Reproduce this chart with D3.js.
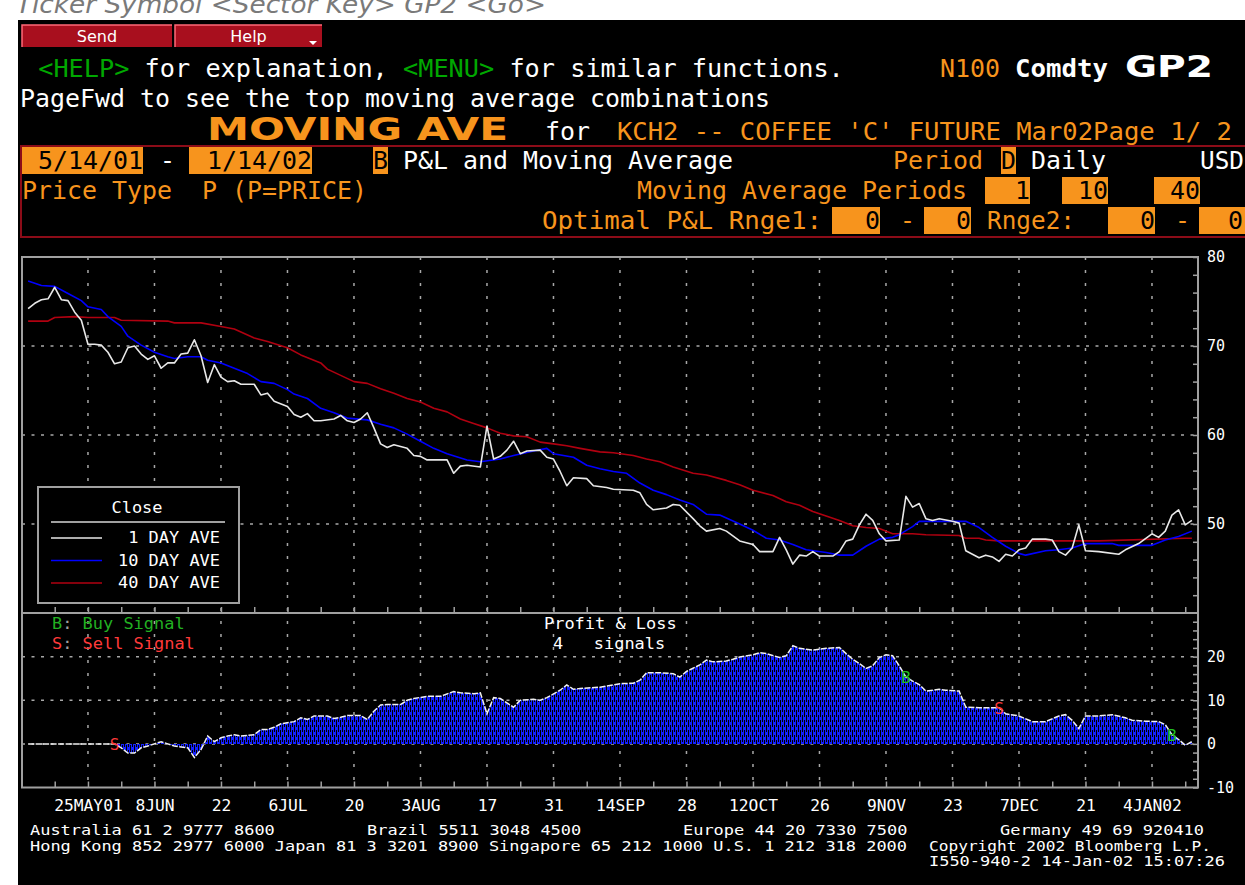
<!DOCTYPE html>
<html lang="en">
<head>
<meta charset="UTF-8">
<title>MOVING AVE - KCH2 Coffee 'C' Future</title>
<script src="https://cdn.jsdelivr.net/npm/d3@7"></script>
<style>
  body { margin: 0; background: #fff; }
  svg { display: block; }
  text { white-space: pre; }
</style>
</head>
<body>
<div id="chart"></div>
<script>
// trading-day number counted from 5/14/01 (day 0) to 1/14/02 (day 175)
const tickDays = [9, 19, 29, 39, 49, 59, 69, 79, 89, 99, 109, 119, 129, 139, 149, 159, 169];
const tickLabels = ["25MAY01", "8JUN", "22", "6JUL", "20", "3AUG", "17", "31", "14SEP",
  "28", "12OCT", "26", "9NOV", "23", "7DEC", "21", "4JAN02"];
const priceTicks = [50, 60, 70, 80];
const pnlTicks = [-10, 0, 10, 20];

// 1 day ave (close)
const close1 = [[0,74.2],[1,74.8],[2,75.2],[3,75.3],[4,76.6],[5,75.2],[6,75.1],[7,73.8],[8,72.9],
  [9,70.2],[10,70.2],[11,70.1],[12,69.3],[13,68.0],[14,68.2],[15,69.8],[16,70.0],[17,69.1],
  [18,68.5],[19,68.9],[20,67.5],[21,68.1],[22,68.1],[23,69.1],[24,69.2],[25,70.7],[26,68.9],
  [27,65.9],[28,67.9],[29,66.5],[30,66.0],[31,66.1],[32,65.7],[34,65.7],[35,64.5],[36,64.7],
  [37,63.8],[39,63.2],[40,62.3],[41,62.0],[42,62.4],[43,61.6],[44,61.6],[46,61.8],[47,62.2],
  [48,61.6],[49,61.4],[50,61.8],[51,62.5],[52,60.8],[53,59.0],[54,58.6],[55,58.9],[57,58.5],
  [58,57.7],[59,57.6],[60,57.2],[63,57.2],[64,55.7],[65,56.5],[66,56.6],[68,56.4],[69,61.0],
  [70,57.3],[71,57.6],[72,58.3],[73,59.3],[74,57.9],[75,58.2],[77,58.3],[78,57.5],[79,57.3],
  [80,55.9],[81,54.3],[82,55.2],[84,55.1],[85,54.3],[87,54.1],[88,53.9],[91,53.8],[92,53.5],
  [93,52.2],[94,51.6],[96,51.8],[97,52.2],[98,52.1],[100,50.6],[101,49.8],[102,49.2],[104,49.5],
  [105,49.2],[107,48.1],[109,47.7],[110,46.9],[112,46.9],[113,48.5],[114,47.1],[115,45.5],
  [116,46.5],[117,46.4],[118,46.9],[119,46.4],[121,46.4],[122,46.9],[123,48.1],[124,48.3],
  [125,49.9],[126,51.1],[127,50.4],[128,48.9],[129,48.1],[131,48.2],[132,53.1],[133,51.9],
  [134,52.3],[135,50.6],[136,50.4],[137,50.6],[139,50.3],[140,50.1],[141,47.0],[142,46.6],
  [143,46.2],[144,46.5],[145,46.3],[146,45.8],[147,46.6],[148,46.4],[149,47.1],[150,47.3],
  [151,48.3],[153,48.3],[154,48.2],[155,46.9],[156,46.5],[157,47.3],[158,49.9],[159,47.0],
  [161,46.9],[164,46.6],[165,47.1],[167,47.8],[169,48.9],[170,48.5],[171,49.2],[172,51.0],
  [173,51.6],[174,49.9],[175,50.4]];

// 10 day ave
const ave10 = [[0,77.3],[2,76.8],[4,76.7],[6,75.9],[8,75.1],[9,74.4],[11,74.1],[12,73.3],
  [14,72.2],[15,71.1],[17,70.1],[19,69.3],[21,68.8],[22,68.6],[24,68.8],[26,68.8],[27,68.4],
  [29,68.1],[31,67.5],[33,66.9],[35,66.0],[37,65.8],[39,65.1],[40,64.6],[42,64.1],[44,63.0],
  [46,62.5],[48,61.9],[51,61.7],[53,61.2],[55,60.8],[57,60.1],[59,59.3],[61,58.5],[63,57.9],
  [66,57.2],[68,57.0],[71,57.3],[73,57.7],[76,58.2],[78,58.5],[79,57.9],[82,57.5],[84,56.6],
  [86,56.2],[88,55.9],[90,55.7],[92,54.6],[94,53.8],[96,53.3],[98,52.7],[100,52.2],[102,51.1],
  [104,51.0],[107,50.0],[109,49.3],[111,48.4],[113,48.2],[115,47.7],[117,47.1],[120,46.8],
  [122,46.5],[124,46.5],[126,47.5],[128,48.3],[130,48.5],[131,48.8],[133,49.7],[134,50.3],
  [141,50.3],[143,49.6],[145,48.5],[147,47.5],[149,46.7],[150,46.5],[153,47.0],[155,47.1],
  [157,47.3],[159,47.8],[163,47.8],[164,47.6],[169,47.6],[171,48.2],[173,48.6],[175,49.2]];

// 40 day ave
const ave40 = [[0,72.8],[3,72.8],[4,73.2],[7,73.3],[9,73.2],[13,73.2],[14,72.9],[21,72.8],
  [22,72.6],[26,72.6],[29,72.2],[31,71.9],[34,70.9],[36,70.5],[39,69.8],[41,69.0],[44,68.1],
  [45,67.4],[47,66.7],[49,66.0],[51,65.8],[53,65.2],[55,64.7],[57,64.1],[59,63.7],[61,63.0],
  [63,62.6],[65,61.8],[67,61.3],[69,60.8],[71,60.2],[73,59.9],[75,59.8],[77,59.2],[79,59.0],
  [81,58.8],[83,58.5],[86,58.1],[88,58.0],[91,57.7],[93,57.3],[95,57.0],[97,56.4],[100,55.7],
  [102,55.5],[105,54.9],[107,54.4],[109,53.8],[112,53.2],[114,52.5],[116,52.1],[118,51.4],
  [120,50.9],[122,50.4],[124,49.8],[126,49.6],[128,49.5],[130,48.9],[133,48.9],[135,48.8],
  [140,48.7],[141,48.4],[143,48.4],[144,48.2],[146,48.1],[161,48.1],[174,48.4],[175,48.4]];

// profit & loss
const pnl = [[0,0],[13,0],[14,-0.9],[15,-2.1],[16,-2.1],[17,-0.9],[18,-0.5],[20,0.5],[21,0],
  [22,-0.5],[24,-0.9],[25,-3.1],[26,-1.3],[27,1.8],[28,0.5],[29,1.4],[30,1.8],[31,2.1],[32,1.8],
  [34,2.1],[35,3.3],[36,3.3],[37,3.8],[38,4.6],[40,5.1],[41,6.0],[42,5.6],[43,6.4],[45,6.4],
  [46,5.8],[47,6.1],[48,6.5],[50,6.5],[51,5.6],[52,7.5],[53,8.9],[54,9.0],[56,9.0],[57,10.0],
  [58,10.4],[60,10.9],[62,10.9],[64,12.0],[65,11.7],[67,11.5],[68,11.7],[69,6.9],[70,10.6],
  [71,10.4],[72,9.4],[73,8.4],[74,10.0],[76,10.2],[77,10.0],[78,10.6],[80,12.3],[81,13.5],
  [82,12.5],[83,12.7],[86,13.0],[88,13.5],[89,13.8],[91,13.9],[92,14.6],[93,16.3],[95,16.3],
  [97,16.1],[98,15.3],[99,16.6],[101,18.1],[102,19.2],[103,18.8],[105,19.0],[106,19.4],
  [107,19.9],[109,20.4],[110,20.9],[111,20.7],[113,19.8],[114,20.2],[115,22.5],[116,21.9],
  [118,21.5],[119,21.7],[120,21.9],[122,22.1],[123,20.7],[124,19.4],[125,18.4],[126,17.3],
  [127,17.9],[128,19.8],[129,20.4],[130,20.2],[131,17.9],[132,15.3],[133,14.4],[134,13.6],
  [135,12.1],[137,12.5],[138,12.3],[140,12.1],[141,8.4],[143,8.3],[145,8.3],[146,8.3],[147,6.9],
  [149,6.4],[151,5.1],[153,5.1],[155,6.4],[156,6.7],[157,5.4],[158,3.5],[159,6.4],[161,6.4],
  [163,6.7],[165,6.0],[166,5.4],[168,5.2],[170,5.1],[171,4.4],[172,2.1],[173,1.0],[174,-0.3],
  [175,0.5]];

const signalDays = [13, 132, 146, 172];
const signalTypes = ["S", "B", "S", "B"];

const legendNames = ["1 DAY AVE", "10 DAY AVE", "40 DAY AVE"];
const legendColors = ["#e8e8e8", "#0000ff", "#b00010"];

const W = 1245, H = 885;
const MONO = "'DejaVu Sans Mono', 'Liberation Mono', monospace";
const SANS = "'DejaVu Sans', 'Liberation Sans', sans-serif";
const ORANGE = "#f7941d", GREEN = "#00a800", GRID = "#a8a8a8";

const svg = d3.select("#chart").append("svg")
  .attr("width", W).attr("height", H);

// helper for fixed-pitch terminal text
function txt(parent, str, x, y, o = {}) {
  const t = parent.append("text")
    .attr("x", x).attr("y", y)
    .attr("font-family", o.font || MONO)
    .attr("font-size", o.size || 24)
    .attr("fill", o.fill || "#fff")
    .text(str);
  const len = o.len || (o.pitch ? str.length * o.pitch : null);
  if (len) t.attr("textLength", len).attr("lengthAdjust", "spacingAndGlyphs");
  if (o.anchor) t.attr("text-anchor", o.anchor);
  if (o.weight) t.attr("font-weight", o.weight);
  if (o.style) t.attr("font-style", o.style);
  return t;
}

// background
svg.append("rect").attr("width", W).attr("height", H).attr("fill", "#fff");
txt(svg, "Ticker Symbol <Sector Key> GP2 <Go>", 16, 13,
  { font: SANS, size: 24, fill: "#7a7a7a", style: "italic", len: 530 });
svg.append("rect").attr("x", 18).attr("y", 20).attr("width", W - 18).attr("height", H - 20)
  .attr("fill", "#000");

// ---- header ----
const head = svg.append("g");
[["Send", 22, 150], ["Help", 175, 147]].forEach(([name, bx, bw]) => {
  head.append("rect").attr("x", bx).attr("y", 25).attr("width", bw).attr("height", 22)
    .attr("fill", "#a80f1e");
  head.append("path").attr("d", `M${bx},47V25H${bx + bw}`)
    .attr("fill", "none").attr("stroke", "#ff6a78").attr("stroke-width", 1.5);
  txt(head, name, bx + bw / 2, 42, { font: SANS, size: 16, anchor: "middle" });
});
head.append("path").attr("d", "M309,41h8l-4,4z").attr("fill", "#fff");

const p1 = 15.2;
txt(head, "<HELP>", 23 + p1, 77, { fill: GREEN, pitch: p1 });
txt(head, "for explanation,", 23 + 8 * p1, 77, { pitch: p1 });
txt(head, "<MENU>", 23 + 25 * p1, 77, { fill: GREEN, pitch: p1 });
txt(head, "for similar functions.", 23 + 32 * p1, 77, { pitch: p1 });
txt(head, "N100", 940, 77, { fill: ORANGE, pitch: 15 });
txt(head, "Comdty", 1015, 77, { weight: "bold", len: 93 });
txt(head, "GP2", 1125, 77, { font: SANS, size: 30, weight: "bold", len: 88 });

txt(head, "PageFwd to see the top moving average combinations", 20, 107, { pitch: 15 });

txt(head, "MOVING AVE", 207, 140, { font: SANS, size: 32, weight: "bold", fill: ORANGE, len: 301 });
txt(head, "for", 545, 140, { pitch: 15 });
txt(head, "KCH2 -- COFFEE 'C' FUTURE Mar02", 617, 140, { fill: ORANGE, len: 476 });
txt(head, "Page 1/ 2", 1093, 140, { fill: ORANGE, len: 139 });

head.append("rect").attr("x", 21).attr("y", 146).attr("width", 1240).attr("height", 91)
  .attr("fill", "none").attr("stroke", "#8c0c18").attr("stroke-width", 2);

// orange input fields: [text, box x, box y, box width]
const fields = [["5/14/01", 22, 147, 121], ["1/14/02", 189, 147, 123], ["B", 373, 147, 15],
  ["D", 1001, 147, 15], ["1", 985, 177, 45], ["10", 1062, 177, 46], ["40", 1154, 177, 46],
  ["0", 832, 207, 48], ["0", 924, 207, 47], ["0", 1108, 207, 47], ["0", 1199, 207, 44]];
fields.forEach(([s, bx, by, bw]) => {
  head.append("rect").attr("x", bx).attr("y", by).attr("width", bw).attr("height", 27)
    .attr("fill", ORANGE);
  txt(head, s, bx + bw, by + 22, { fill: "#000", pitch: 15, anchor: "end" });
});
head.append("rect").attr("x", 1243).attr("y", 207).attr("width", 2).attr("height", 27)
  .attr("fill", ORANGE);
txt(head, "-", 160, 169, { pitch: 15 });
txt(head, "P&L and Moving Average", 403, 169, { pitch: 15 });
txt(head, "Period", 893, 169, { fill: ORANGE, pitch: 15 });
txt(head, "Daily", 1031, 169, { pitch: 15 });
txt(head, "USD", 1200, 169, { len: 44 });
txt(head, "Price Type  P (P=PRICE)", 22, 199, { fill: ORANGE, pitch: 15 });
txt(head, "Moving Average Periods", 637, 199, { fill: ORANGE, pitch: 15 });
txt(head, "Optimal P&L Rnge1:", 542, 229, { fill: ORANGE, len: 280 });
txt(head, "-", 900, 229, { fill: ORANGE, pitch: 15 });
txt(head, "Rnge2:", 987, 229, { fill: ORANGE, len: 88 });
txt(head, "-", 1175, 229, { fill: ORANGE, pitch: 15 });

// ---- chart ----
const x = d3.scaleLinear().domain([-0.92, 175.92]).range([22, 1198]);
const yTop = d3.scaleLinear().domain([40, 80]).range([613, 257]);
const yBot = d3.scaleLinear().domain([-10, 30]).range([787.5, 613]);
const CP = 10.2; // chart text pitch

const defs = svg.append("defs");
const pat = defs.append("pattern").attr("id", "hatch").attr("patternUnits", "userSpaceOnUse")
  .attr("width", 4).attr("height", 10);
pat.append("rect").attr("width", 4).attr("height", 10).attr("fill", "#1420ff");
pat.append("path").attr("d", "M0.5,0V7M2.5,5V10M2.5,0V2").attr("stroke", "#000").attr("stroke-width", 1);

const grid = svg.append("g").attr("stroke", GRID).attr("stroke-width", 1.5).attr("fill", "none");
grid.selectAll(".vg").data(tickDays).join("line")
  .attr("x1", d => x(d)).attr("x2", d => x(d))
  .attr("y1", yTop.range()[1]).attr("y2", yBot.range()[0])
  .attr("stroke-dasharray", "3,10");
grid.selectAll(".hg").data(priceTicks.filter(d => d < 80)).join("line")
  .attr("x1", x.range()[0]).attr("x2", x.range()[1])
  .attr("y1", d => yTop(d)).attr("y2", d => yTop(d))
  .attr("stroke-dasharray", "3,6.5");
grid.selectAll(".hg2").data(pnlTicks.filter(d => d > -10)).join("line")
  .attr("x1", x.range()[0]).attr("x2", x.range()[1])
  .attr("y1", d => yBot(d)).attr("y2", d => yBot(d))
  .attr("stroke-dasharray", "3,6.5");

// P&L area + line
svg.append("path").datum(pnl)
  .attr("fill", "url(#hatch)")
  .attr("d", d3.area().x(d => x(d[0])).y0(yBot(0)).y1(d => yBot(d[1])));
svg.append("path").datum(pnl)
  .attr("fill", "none").attr("stroke", "#f0f0f0").attr("stroke-width", 1.5)
  .attr("stroke-dasharray", "6,1.5")
  .attr("d", d3.line().x(d => x(d[0])).y(d => yBot(d[1])));

// price lines
const lineTop = d3.line().x(d => x(d[0])).y(d => yTop(d[1]));
[[ave40, legendColors[2]], [ave10, legendColors[1]], [close1, legendColors[0]]].forEach(([s, c]) => {
  svg.append("path").datum(s).attr("fill", "none").attr("stroke", c)
    .attr("stroke-width", 1.6).attr("stroke-linejoin", "round").attr("d", lineTop);
});

// signals
const pnlAt = d => pnl.find(p => p[0] === d)[1];
svg.selectAll(".sig").data(signalDays).join("text")
  .attr("x", d => x(d)).attr("y", d => yBot(pnlAt(d)) + 6)
  .attr("text-anchor", "middle").attr("font-family", MONO).attr("font-size", 16)
  .attr("fill", (d, i) => signalTypes[i] === "B" ? "#22c022" : "#ff3a3a")
  .text((d, i) => signalTypes[i]);

// frames
const frame = svg.append("g").attr("fill", "none").attr("stroke", "#a0a0a0").attr("stroke-width", 2);
frame.append("rect").attr("x", 22).attr("y", 257).attr("width", 1176).attr("height", 356);
frame.append("rect").attr("x", 22).attr("y", 613).attr("width", 1176).attr("height", 174.5);

// axes
function styleAxis(g) {
  g.select(".domain").remove();
  g.selectAll("line").attr("stroke", "#a0a0a0").attr("stroke-width", 1.5);
  g.selectAll("text").attr("fill", "#fff").attr("font-family", MONO).attr("font-size", 15);
}
const minorDays = d3.range(4, 176, 5);
svg.append("g").attr("transform", `translate(0,${yTop.range()[0]})`)
  .call(d3.axisTop(x).tickValues(minorDays).tickSize(6).tickFormat("")).call(styleAxis);
svg.append("g").attr("transform", `translate(0,${yBot.range()[0]})`)
  .call(d3.axisTop(x).tickValues(minorDays).tickSize(6).tickFormat("")).call(styleAxis);

svg.append("g").attr("transform", `translate(${x.range()[1]},0)`)
  .call(d3.axisRight(yTop).tickValues(d3.range(42, 81, 2)).tickSizeInner(-5).tickSizeOuter(0)
    .tickPadding(9).tickFormat(d => priceTicks.includes(d) ? d : ""))
  .call(styleAxis);
svg.append("g").attr("transform", `translate(${x.range()[1]},0)`)
  .call(d3.axisRight(yBot).tickValues(d3.range(-10, 30, 2)).tickSizeInner(-5).tickSizeOuter(0)
    .tickPadding(9).tickFormat(d => pnlTicks.includes(d) ? (d < 0 ? "-" + (-d) : d) : ""))
  .call(styleAxis);

svg.append("g").attr("transform", "translate(0,800)")
  .call(d3.axisBottom(x).tickValues(tickDays).tickSize(0).tickPadding(0)
    .tickFormat((d, i) => tickLabels[i]))
  .call(styleAxis)
  .selectAll("text").each(function () {
    const s = d3.select(this).text();
    d3.select(this).attr("textLength", s.length * 9.8).attr("lengthAdjust", "spacingAndGlyphs");
  });

// legend
const lg = svg.append("g");
lg.append("rect").attr("x", 38).attr("y", 487).attr("width", 201).attr("height", 116)
  .attr("fill", "#000").attr("stroke", "#a0a0a0").attr("stroke-width", 2);
txt(lg, "Close", 137, 513, { size: 15, pitch: CP, anchor: "middle" });
lg.append("line").attr("x1", 51).attr("x2", 225).attr("y1", 522).attr("y2", 522)
  .attr("stroke", "#a0a0a0").attr("stroke-width", 2);
legendNames.forEach((n, i) => {
  const ly = 538 + i * 22.5;
  lg.append("line").attr("x1", 51).attr("x2", 102).attr("y1", ly).attr("y2", ly)
    .attr("stroke", legendColors[i]).attr("stroke-width", 1.6);
  txt(lg, n, 220, ly + 5, { size: 15, pitch: CP, anchor: "end" });
});

// signal key + P&L title
txt(svg, "B", 52, 629, { size: 15, pitch: CP, fill: "#22b022" });
txt(svg, ":", 52 + CP, 629, { size: 15, pitch: CP, fill: "#a0a0a0" });
txt(svg, "Buy Signal", 52 + 3 * CP, 629, { size: 15, pitch: CP, fill: "#22b022" });
txt(svg, "S", 52, 649, { size: 15, pitch: CP, fill: "#ff3a3a" });
txt(svg, ":", 52 + CP, 649, { size: 15, pitch: CP, fill: "#a0a0a0" });
txt(svg, "Sell Signal", 52 + 3 * CP, 649, { size: 15, pitch: CP, fill: "#ff3a3a" });
txt(svg, "Profit & Loss", 544, 629, { size: 15, pitch: CP });
txt(svg, "4   signals", 553, 649, { size: 15, pitch: CP });

// footer
const ft = svg.append("g");
txt(ft, "Australia 61 2 9777 8600", 30, 835, { size: 14, pitch: CP });
txt(ft, "Brazil 5511 3048 4500", 367, 835, { size: 14, pitch: CP });
txt(ft, "Europe 44 20 7330 7500", 683, 835, { size: 14, pitch: CP });
txt(ft, "Germany 49 69 920410", 1000, 835, { size: 14, pitch: CP });
txt(ft, "Hong Kong 852 2977 6000 Japan 81 3 3201 8900 Singapore 65 212 1000 U.S. 1 212 318 2000",
  30, 851, { size: 14, len: 877 });
txt(ft, "Copyright 2002 Bloomberg L.P.", 929, 851, { size: 14, len: 282 });
txt(ft, "I550-940-2 14-Jan-02 15:07:26", 929, 866, { size: 14, len: 296 });
</script>
</body>
</html>
